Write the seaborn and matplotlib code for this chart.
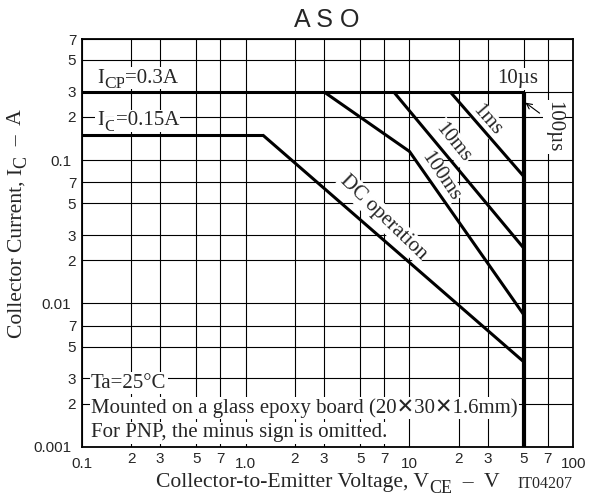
import numpy as np
import pandas as pd
import matplotlib
matplotlib.use("Agg")
import matplotlib.pyplot as plt
import seaborn as sns

# данные кривых ASO (VCE в В, IC в А)
icp_v = [0.1, 50]
icp_i = [0.3, 0.3]
ic_v = [0.1, 1.27]
ic_i = [0.15, 0.15]
dc_v = [1.27, 50]
dc_i = [0.15, 0.0039]
ms100_v = [3.0, 10, 50]
ms100_i = [0.3, 0.115, 0.0083]
ms10_v = [8.0, 50]
ms10_i = [0.3, 0.0242]
ms1_v = [17.7, 50]
ms1_i = [0.3, 0.0766]
us100_v = [50, 50]
us100_i = [0.3, 0.001]

x_major = [0.1, 1, 10, 100]
x_major_lab = ["0.1", "1.0", "10", "100"]
x_minor = [0.2, 0.3, 0.5, 0.7, 2, 3, 5, 7, 20, 30, 50, 70]
y_major = [0.001, 0.01, 0.1]
y_major_lab = ["0.001", "0.01", "0.1"]
y_minor = [0.002, 0.003, 0.005, 0.007, 0.02, 0.03, 0.05, 0.07, 0.2, 0.3, 0.5, 0.7]
minor_lab = ["2", "3", "5", "7"] * 3

sns.set_style("white")
serif = ['Liberation Serif', 'DejaVu Sans']
sans = 'Liberation Sans'
FS = 15
SUB = 12.5
LFS = 15.6

fig = plt.figure(figsize=(5.9, 5.04), dpi=100)
ax = fig.add_axes([0.1385, 0.1137, 0.8332, 0.8089])

curves = [
    ("icp", icp_v, icp_i, 2.2),
    ("ic", ic_v, ic_i, 2.2),
    ("dc", dc_v, dc_i, 2.2),
    ("100ms", ms100_v, ms100_i, 2.2),
    ("10ms", ms10_v, ms10_i, 2.2),
    ("1ms", ms1_v, ms1_i, 2.2),
    ("100us", us100_v, us100_i, 3.0),
]
for name, v, i, lw in curves:
    d = pd.DataFrame({"VCE": v, "IC": i})
    sns.lineplot(data=d, x="VCE", y="IC", ax=ax, color="black", lw=lw,
                 sort=False, estimator=None, zorder=4, solid_capstyle='butt')

ax.set_xscale("log")
ax.set_yscale("log")
ax.set_xlim(0.1, 100)
ax.set_ylim(0.001, 0.7)

ax.set_xticks(x_major)
ax.set_xticklabels(x_major_lab)
ax.set_xticks(x_minor, minor=True)
ax.set_xticklabels(minor_lab, minor=True)
ax.set_yticks(y_major)
ax.set_yticklabels(y_major_lab)
ax.set_yticks(y_minor, minor=True)
ax.set_yticklabels(minor_lab, minor=True)

ax.tick_params(which="major", length=0, pad=7.5, labelsize=11)
ax.tick_params(which="minor", length=0, pad=4, labelsize=11)
for lab in ax.get_xticklabels(which="both") + ax.get_yticklabels(which="both"):
    lab.set_fontfamily(sans)

ax.grid(which="both", color="black", lw=0.8)
ax.set_axisbelow(True)
for s in ax.spines.values():
    s.set_color("black")
    s.set_linewidth(1.3)
ax.set_xlabel("")
ax.set_ylabel("")


# текст с подстрочными индексами почти полного размера
def chain(first, parts, rotated=False, **kw):
    prev = first
    for txt, size, shift in parts:
        if rotated:
            prev = ax.annotate(txt, xy=(1, 1), xycoords=prev, xytext=(shift, 0),
                               textcoords="offset points", ha="right", va="bottom",
                               rotation=90, fontsize=size, annotation_clip=False, **kw)
        else:
            prev = ax.annotate(txt, xy=(1, 0), xycoords=prev, xytext=(0, shift),
                               textcoords="offset points", ha="left", va="bottom",
                               fontsize=size, annotation_clip=False, **kw)
    return prev


box = dict(fc="white", ec="none", pad=1.0)
tkw = dict(transform=ax.transAxes, family=serif, fontsize=FS, bbox=box, zorder=3)

t = ax.text(0.031, 0.904, "I", ha="left", va="center", **tkw)
chain(t, [("CP", SUB, -3), ("=0.3A", FS, 3)], family=serif, bbox=box, zorder=3)
t = ax.text(0.031, 0.799, "I", ha="left", va="center", **tkw)
chain(t, [("C", SUB, -3), ("=0.15A", FS, 3)], family=serif, bbox=box, zorder=3)

ax.text(0.886, 0.902, "10µs", ha="center", va="center", **tkw)
ax.text(0.824, 0.801, "1ms", ha="center", va="center", rotation=-49, **tkw)
ax.text(0.755, 0.747, "10ms", ha="center", va="center", rotation=-51, **tkw)
ax.text(0.729, 0.664, "100ms", ha="center", va="center", rotation=-56, **tkw)
ax.text(0.613, 0.563, "DC operation", ha="center", va="center", rotation=-44, **tkw)
ax.text(0.961, 0.784, "100µs", ha="center", va="center", rotation=-90, **tkw)
ax.annotate("", xy=(0.898, 0.848), xytext=(0.936, 0.814), xycoords="axes fraction",
            arrowprops=dict(arrowstyle="->", lw=0.8, color="black"), zorder=5)

ax.text(0.019, 0.156, "Ta=25°C", ha="left", va="center", **tkw)
ax.text(0.019, 0.095, "Mounted on a glass epoxy board (20✕30✕1.6mm)", ha="left", va="center", **tkw)
ax.text(0.019, 0.034, "For PNP, the minus sign is omitted.", ha="left", va="center", **tkw)

fig.text(0.554, 0.960, "A S O", ha="center", va="center", family=sans, fontsize=18)

# подпись оси X
t = fig.text(0.264, 0.0417, "Collector-to-Emitter Voltage, V", ha="left", va="center",
             family=serif, fontsize=LFS)
chain(t, [("CE", SUB + 0.5, -3), ("  –  V", LFS, 3)], family=serif)

# подпись оси Y
t = fig.text(0.0288, 0.329, "Collector Current, I", ha="center", va="bottom",
             rotation=90, family=serif, fontsize=LFS)
chain(t, [("C", SUB + 0.5, 3), ("  –  A", LFS, -3)], rotated=True, family=serif)

fig.text(0.924, 0.040, "IT04207", ha="center", va="center", family=serif, fontsize=11.5)

fig.savefig("out.png", dpi=100)
